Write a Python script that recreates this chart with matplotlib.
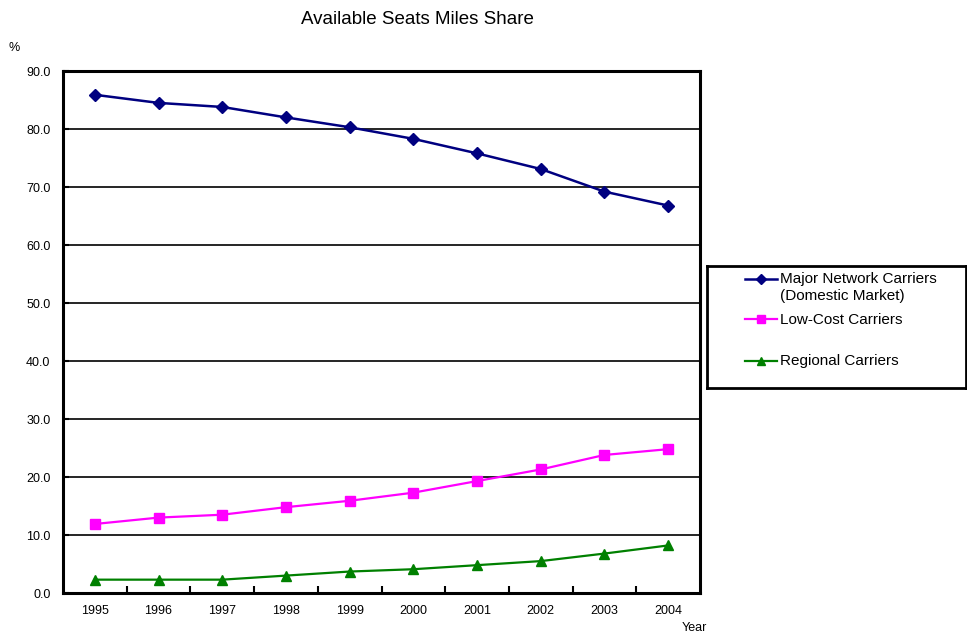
import matplotlib.pyplot as plt
from matplotlib.lines import Line2D

plt.rcParams['font.family'] = ['Liberation Sans', 'DejaVu Sans']

years = ["1995", "1996", "1997", "1998", "1999", "2000", "2001", "2002", "2003", "2004"]
major = [85.9, 84.5, 83.8, 82.0, 80.3, 78.3, 75.8, 73.1, 69.2, 66.8]
low_cost = [11.9, 13.0, 13.5, 14.8, 15.9, 17.3, 19.3, 21.3, 23.8, 24.8]
regional = [2.3, 2.3, 2.3, 3.0, 3.7, 4.1, 4.8, 5.5, 6.8, 8.2]

labels = ["Major Network Carriers\n(Domestic Market)", "Low-Cost Carriers", "Regional Carriers"]
colors = ["#000080", "#FF00FF", "#008000"]
markers = ["D", "s", "^"]
msizes = [6, 7, 7]
lwidths = [1.8, 1.6, 1.6]

fig = plt.figure(figsize=(9.67, 6.39), dpi=100)
ax = fig.add_axes([63 / 967, 46 / 639, 637 / 967, 522 / 639])

x = list(range(len(years)))
for vals, c, m, ms, lw in zip([major, low_cost, regional], colors, markers, msizes, lwidths):
    ax.plot(x, vals, color=c, marker=m, markersize=ms, lw=lw, zorder=3)

ax.set_xlim(-0.5, len(years) - 0.5)
ax.set_ylim(0, 90)
ax.set_yticks(range(0, 91, 10))
ax.set_yticklabels([f"{v:.1f}" for v in range(0, 91, 10)], fontsize=9)
ax.set_xticks(x)
ax.set_xticklabels(years, fontsize=9)
ax.tick_params(axis="x", which="major", length=0, pad=9)
ax.set_xticks([i + 0.5 for i in x[:-1]], minor=True)
ax.tick_params(axis="x", which="minor", direction="in", length=5, width=1.5)
ax.tick_params(axis="y", direction="in", length=4, width=1.5, pad=9)
ax.yaxis.grid(True, color="black", lw=1.2)
ax.set_axisbelow(True)
for s in ax.spines.values():
    s.set_linewidth(2.2)

fig.text(417 / 967, 1 - 19 / 639, "Available Seats Miles Share", ha="center", va="center", fontsize=13.5)
fig.text(14 / 967, 1 - 48 / 639, "%", ha="center", va="center", fontsize=9)
fig.text(694 / 967, 1 - 628 / 639, "Year", ha="center", va="center", fontsize=9)

# legend box drawn in its own axes to the right of the plot
lax = fig.add_axes([707 / 967, 1 - 388 / 639, 259 / 967, 122 / 639])
lax.set_xlim(707, 966)
lax.set_ylim(388, 266)
lax.set_xticks([])
lax.set_yticks([])
for s in lax.spines.values():
    s.set_linewidth(2)
entry_y = [279, 319, 361]
for lab, c, m, ms, lw, yy in zip(labels, colors, markers, msizes, lwidths, entry_y):
    lax.add_line(Line2D([745, 777], [yy, yy], color=c, lw=lw))
    lax.plot([761], [yy], color=c, marker=m, markersize=ms - 1)
    lax.text(780, yy - 6.5, lab, ha="left", va="top", fontsize=11, linespacing=1.25)

fig.savefig("out.png", dpi=100)
